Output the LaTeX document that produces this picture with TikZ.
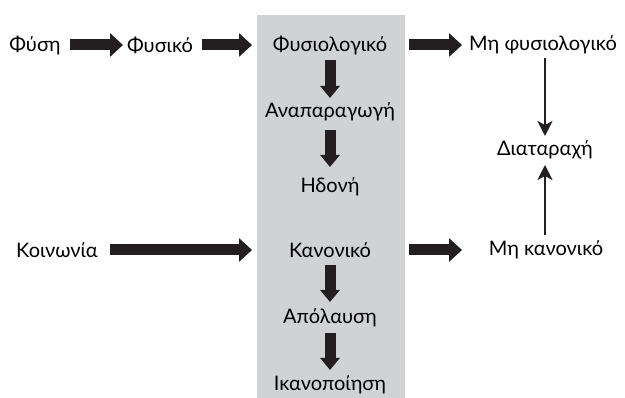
\documentclass[tikz,border=0pt]{standalone}
\usepackage{fontspec}
\setmainfont{Lato}
\usetikzlibrary{arrows.meta,calc}
\definecolor{boxgray}{HTML}{D1D2D4}
\definecolor{ink}{HTML}{231F20}
\tikzset{
  lbl/.style={inner sep=0pt, font=\fontsize{20}{24}\selectfont, text=black},
  hbig/.style={draw=ink, line width=11pt, -{Triangle[width=23pt,length=13pt]}, ink},
  vbig/.style={draw=ink, line width=11pt, -{Triangle[width=19pt,length=12pt]}, ink},
  thin/.style={draw=ink, line width=1.8pt, -{Stealth[width=15pt,length=15pt,inset=4pt]}, ink}
}
\begin{document}
\begin{tikzpicture}[x=1pt,y=-1pt]
\useasboundingbox (0,0) rectangle (625,398);
\fill[boxgray] (257,15) rectangle (405,398);
\node[lbl] (fysi) at (35,45) {Φύση};
\node[lbl] (fysiko) at (160,45) {Φυσικό};
\node[lbl] (fysiol) at (330,45) {Φυσιολογικό};
\node[lbl] (mifys) at (543,45) {Μη φυσιολογικό};
\node[lbl] (anap) at (330,112) {Αναπαραγωγή};
\node[lbl] (idoni) at (330,187) {Ηδονή};
\node[lbl] (diat) at (545,150) {Διαταραχή};
\node[lbl] (koin) at (57,250) {Κοινωνία};
\node[lbl] (kanon) at (330,250) {Κανονικό};
\node[lbl] (mikan) at (546,250) {Μη κανονικό};
\node[lbl] (apol) at (330,318) {Απόλαυση};
\node[lbl] (ikan) at (330,385) {Ικανοποίηση};
\draw[hbig, shorten <=35pt, shorten >=37pt] (fysi.center) -- (fysiko.center);
\draw[hbig, shorten <=42pt, shorten >=78pt] (fysiko.center) -- (fysiol.center);
\draw[hbig, shorten <=79pt, shorten >=81pt] (fysiol.center) -- (fysiol.center -| mifys.center);
\draw[hbig, shorten <=53pt, shorten >=78pt] (koin.center) -- (kanon.center);
\draw[hbig, shorten <=79pt, shorten >=84pt] (kanon.center) -- (mikan.center);
\draw[vbig, shorten <=15pt, shorten >=14pt] (fysiol.center) -- (anap.center);
\draw[vbig, shorten <=18pt, shorten >=20pt] (anap.center) -- (idoni.center);
\draw[vbig, shorten <=15pt, shorten >=16pt] (kanon.center) -- (apol.center);
\draw[vbig, shorten <=15pt, shorten >=15pt] (apol.center) -- (ikan.center);
\draw[thin, shorten <=13pt, shorten >=14pt] (diat.center |- mifys.center) -- (diat.center);
\draw[thin, shorten <=15pt, shorten >=15pt] (diat.center |- mikan.center) -- (diat.center);
\end{tikzpicture}
\end{document}
